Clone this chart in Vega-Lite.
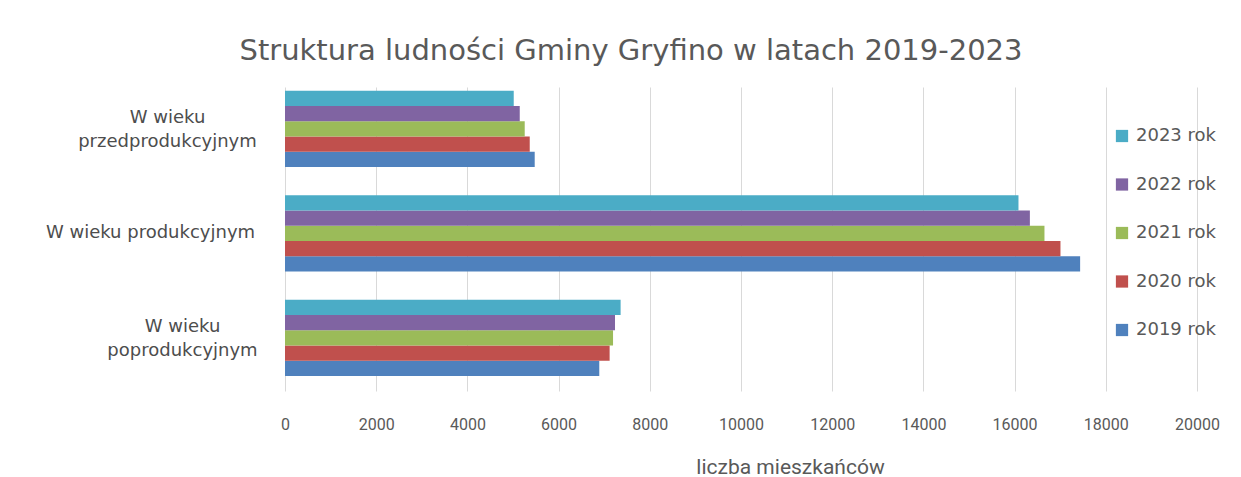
{
  "$schema": "https://vega.github.io/schema/vega-lite/v6.json",
  "autosize": {"type": "none"},
  "padding": {"left": 285, "top": 87, "right": 44, "bottom": 86},
  "width": 912,
  "height": 304,
  "background": "white",
  "title": {
    "text": "Struktura ludności Gminy Gryfino w latach 2019-2023",
    "font": "DejaVu Sans",
    "fontSize": 29,
    "fontWeight": "normal",
    "color": "#595959",
    "anchor": "middle",
    "dx": -110,
    "offset": 21
  },
  "data": {
    "values": [
      {"grupa": "W wieku przedprodukcyjnym", "rok": "2019 rok", "liczba": 5476},
      {"grupa": "W wieku przedprodukcyjnym", "rok": "2020 rok", "liczba": 5367},
      {"grupa": "W wieku przedprodukcyjnym", "rok": "2021 rok", "liczba": 5257},
      {"grupa": "W wieku przedprodukcyjnym", "rok": "2022 rok", "liczba": 5148},
      {"grupa": "W wieku przedprodukcyjnym", "rok": "2023 rok", "liczba": 5016},
      {"grupa": "W wieku produkcyjnym", "rok": "2019 rok", "liczba": 17437},
      {"grupa": "W wieku produkcyjnym", "rok": "2020 rok", "liczba": 17006},
      {"grupa": "W wieku produkcyjnym", "rok": "2021 rok", "liczba": 16655},
      {"grupa": "W wieku produkcyjnym", "rok": "2022 rok", "liczba": 16335},
      {"grupa": "W wieku produkcyjnym", "rok": "2023 rok", "liczba": 16085},
      {"grupa": "W wieku poprodukcyjnym", "rok": "2019 rok", "liczba": 6892},
      {"grupa": "W wieku poprodukcyjnym", "rok": "2020 rok", "liczba": 7119},
      {"grupa": "W wieku poprodukcyjnym", "rok": "2021 rok", "liczba": 7194},
      {"grupa": "W wieku poprodukcyjnym", "rok": "2022 rok", "liczba": 7237},
      {"grupa": "W wieku poprodukcyjnym", "rok": "2023 rok", "liczba": 7360}
    ]
  },
  "mark": {"type": "bar"},
  "encoding": {
    "y": {
      "field": "grupa",
      "type": "nominal",
      "sort": ["W wieku przedprodukcyjnym", "W wieku produkcyjnym", "W wieku poprodukcyjnym"],
      "scale": {"paddingInner": 0.27, "paddingOuter": 0.09, "align": 0.2},
      "axis": {
        "title": null,
        "domain": false,
        "ticks": false,
        "grid": false,
        "labelAlign": "center",
        "labelPadding": {
          "condition": [
            {"test": "datum.value === 'W wieku produkcyjnym'", "value": 135},
            {"test": "datum.value === 'W wieku poprodukcyjnym'", "value": 103}
          ],
          "value": 118
        },
        "labelOffset": {
          "condition": {"test": "datum.value === 'W wieku produkcyjnym'", "value": 0},
          "value": -11
        },
        "labelFont": "DejaVu Sans",
        "labelFontSize": 18,
        "labelColor": "#4D4D4D",
        "labelLimit": 400,
        "labelLineHeight": 24,
        "labelExpr": "datum.value === 'W wieku produkcyjnym' ? datum.value : ['W wieku', replace(datum.value, 'W wieku ', '')]"
      }
    },
    "yOffset": {
      "field": "rok",
      "type": "nominal",
      "sort": "descending",
      "scale": {"paddingInner": 0, "paddingOuter": 0}
    },
    "x": {
      "field": "liczba",
      "type": "quantitative",
      "scale": {"domain": [0, 20000], "nice": false},
      "axis": {
        "title": "liczba mieszkańców",
        "values": [0, 2000, 4000, 6000, 8000, 10000, 12000, 14000, 16000, 18000, 20000],
        "format": "d",
        "domain": false,
        "ticks": false,
        "grid": true,
        "gridColor": "#D9D9D9",
        "gridWidth": 1,
        "labelFlush": false,
        "labelFont": "Roboto",
        "labelFontSize": 16,
        "labelColor": "#595959",
        "labelPadding": 25,
        "titleFont": "Roboto",
        "titleFontSize": 21,
        "titleFontWeight": "normal",
        "titleColor": "#595959",
        "titleX": 505,
        "titleY": 65
      }
    },
    "color": {
      "field": "rok",
      "type": "nominal",
      "scale": {
        "domain": ["2023 rok", "2022 rok", "2021 rok", "2020 rok", "2019 rok"],
        "range": ["#4BACC6", "#8064A2", "#9BBB59", "#C0504D", "#4F81BD"]
      },
      "legend": {
        "title": null,
        "orient": "none",
        "legendX": 828,
        "legendY": 40,
        "symbolType": "square",
        "symbolSize": 150,
        "symbolStrokeWidth": 0,
        "labelFont": "DejaVu Sans",
        "labelFontSize": 18,
        "labelColor": "#595959",
        "labelOffset": 5,
        "rowPadding": 30.5
      }
    }
  },
  "config": {"view": {"stroke": null}}
}
